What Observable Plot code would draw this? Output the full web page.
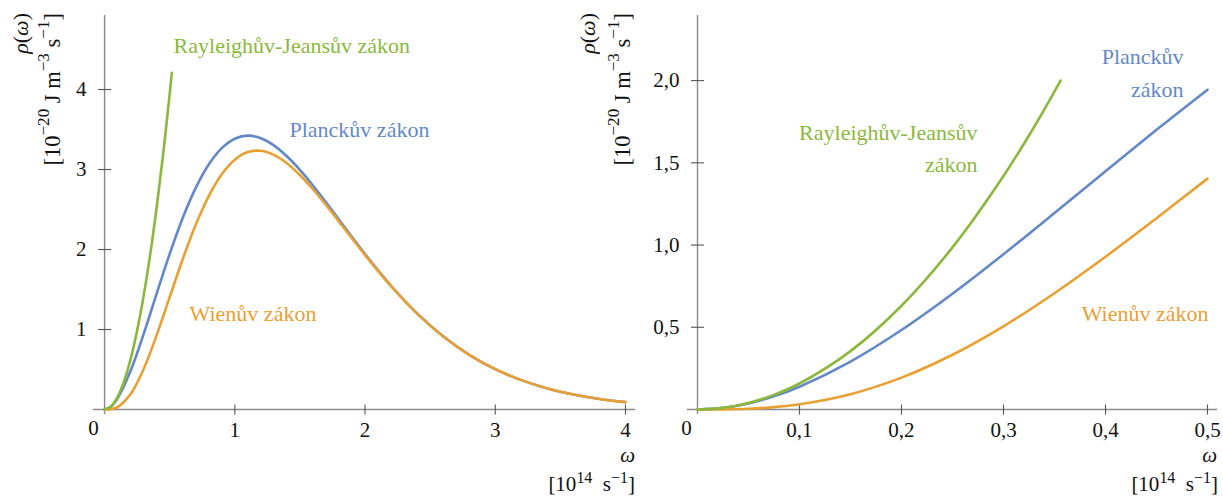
<!DOCTYPE html>
<html><head><meta charset="utf-8">
<script src="https://cdn.jsdelivr.net/npm/d3@7"></script>
<script src="https://cdn.jsdelivr.net/npm/@observablehq/plot@0.6"></script>
<style>
body{margin:0;background:#fff;}
#wrap{position:relative;width:1223px;height:500px;overflow:hidden;font-family:"Liberation Serif",serif;color:#111;}
#wrap svg{position:absolute;top:0;font-family:"Liberation Serif",serif;}
.lab{position:absolute;font-size:21px;white-space:nowrap;line-height:1;}
.rot{writing-mode:vertical-rl;transform:rotate(180deg);}
.lab sup{font-size:0.76em;vertical-align:0.5em;line-height:0;}
.it{font-style:italic;}
</style></head><body><div id="wrap"></div>
<script>
// ---- data ----
// left panel: ω in 10^14 s^-1, ρ in 10^-20 J m^-3 s^-1
const omegaL  = [0, 0.05, 0.1, 0.2, 0.3, 0.4, 0.5, 0.6, 0.7, 0.8, 0.9, 1.0, 1.1, 1.2, 1.3, 1.4, 1.5, 1.6, 1.7, 1.8, 1.9, 2.0, 2.2, 2.4, 2.6, 2.8, 3.0, 3.2, 3.4, 3.6, 3.8, 4.0];
const planckL = [0, 0.037, 0.139, 0.483, 0.944, 1.449, 1.945, 2.394, 2.770, 3.063, 3.267, 3.385, 3.423, 3.391, 3.302, 3.165, 2.995, 2.800, 2.590, 2.373, 2.156, 1.943, 1.546, 1.201, 0.915, 0.684, 0.504, 0.367, 0.264, 0.187, 0.132, 0.092];
const wienL   = [0, 0.004, 0.031, 0.194, 0.506, 0.929, 1.404, 1.878, 2.309, 2.668, 2.941, 3.123, 3.218, 3.234, 3.183, 3.078, 2.931, 2.753, 2.557, 2.349, 2.139, 1.931, 1.541, 1.199, 0.913, 0.684, 0.504, 0.367, 0.264, 0.187, 0.132, 0.092];
const omegaRJL = [0, 0.05, 0.1, 0.15, 0.2, 0.25, 0.3, 0.35, 0.4, 0.45, 0.5, 0.5165];
const rjL      = [0, 0.039, 0.158, 0.355, 0.631, 0.986, 1.420, 1.933, 2.525, 3.196, 3.945, 4.21];

// right panel (zoom on low frequencies)
const omegaR  = [0, 0.025, 0.05, 0.075, 0.1, 0.15, 0.2, 0.25, 0.3, 0.35, 0.4, 0.45, 0.5];
const planckR = [0, 0.0096, 0.037, 0.0805, 0.1385, 0.2913, 0.4834, 0.7041, 0.944, 1.1947, 1.449, 1.7007, 1.945];
const wienR   = [0, 0.0006, 0.0044, 0.0141, 0.0313, 0.0929, 0.1937, 0.3329, 0.506, 0.7071, 0.9286, 1.1633, 1.404];
const omegaRJR = [0, 0.025, 0.05, 0.075, 0.1, 0.15, 0.2, 0.25, 0.3, 0.33, 0.356];
const rjR      = [0, 0.0099, 0.0395, 0.0888, 0.158, 0.355, 0.631, 0.986, 1.420, 1.718, 2.0];

// ticks
const xTicksL = [0, 1, 2, 3, 4];
const yTicksL = [1, 2, 3, 4];
const xTicksR = [0, 0.1, 0.2, 0.3, 0.4, 0.5];
const yTicksR = [0.5, 1.0, 1.5, 2.0];

// curve labels
const lawNames = {rj: "Rayleighův-Jeansův zákon", planck: "Planckův zákon", wien: "Wienův zákon"};
const colors = {rj: "#8bb83c", planck: "#6388c6", wien: "#e8a033"};

// ---- helpers ----
const vTick = {draw(ctx, size){const r = Math.sqrt(size/Math.PI); ctx.moveTo(0,-r); ctx.lineTo(0,r);}};
const hTick = {draw(ctx, size){const r = Math.sqrt(size/Math.PI); ctx.moveTo(-r,0); ctx.lineTo(r,0);}};
const comma = d => d === 0 ? "0" : d.toFixed(1).replace(".", ",");
const FONT = "Liberation Serif";
const AX = "#8a8a8a", TK = "#555";

function panel({xT, yT, fmtX, fmtY, width, mL, mR, xDom, yDom, curves, labels}) {
  const T = {fontFamily: FONT, fontSize: 21, fill: "#111"};
  return Plot.plot({
    width, height: 500,
    marginLeft: mL, marginRight: mR, marginTop: 15, marginBottom: 86,
    x: {domain: xDom, axis: null},
    y: {domain: yDom, axis: null},
    style: {background: "transparent", overflow: "visible"},
    marks: [
      Plot.ruleY([0], {stroke: AX, strokeWidth: 1.4}),
      Plot.ruleX([0], {stroke: AX, strokeWidth: 1.4}),
      Plot.dot(xT.filter(d => d !== 0), {x: d => d, y: 0, symbol: vTick, r: 5, fill: "none", stroke: TK, strokeWidth: 1.1}),
      Plot.dot(yT, {x: 0, y: d => d, symbol: hTick, r: 6.5, fill: "none", stroke: TK, strokeWidth: 1.1}),
      Plot.text(xT.filter(d => d !== 0), {x: d => d, y: 0, dy: 21, text: fmtX, ...T}),
      Plot.text([0], {x: 0, y: 0, dx: -11, dy: 19, text: () => "0", ...T}),
      Plot.text(yT, {x: 0, y: d => d, dx: -18, text: fmtY, textAnchor: "end", ...T}),
      ...curves.map(c => Plot.line(c.x, {x: c.x, y: c.y, stroke: c.color, strokeWidth: 2.6, curve: "catmull-rom"})),
      ...labels.map(l => Plot.text([l.text], {x: () => l.x, y: () => l.y, text: d => d, textAnchor: l.anchor, lineAnchor: "middle", lineHeight: l.lh || 1, fontFamily: FONT, fontSize: 22, fill: l.color}))
    ]
  });
}

const left = panel({
  xT: xTicksL, yT: yTicksL, fmtX: d => String(d), fmtY: d => String(d),
  width: 645, mL: 93, mR: 10, xDom: [-0.085, 4.077], yDom: [-0.0625, 4.925],
  curves: [
    {x: omegaL, y: planckL, color: colors.planck},
    {x: omegaL, y: wienL, color: colors.wien},
    {x: omegaRJL, y: rjL, color: colors.rj}
  ],
  labels: [
    {text: lawNames.rj, x: 0.53, y: 4.55, anchor: "start", color: colors.rj},
    {text: lawNames.planck, x: 1.42, y: 3.49, anchor: "start", color: colors.planck},
    {text: lawNames.wien, x: 0.653, y: 1.19, anchor: "start", color: colors.wien}
  ]
});
left.style.left = "0px";

const right = panel({
  xT: xTicksR, yT: yTicksR, fmtX: comma, fmtY: comma,
  width: 643, mL: 107, mR: 6, xDom: [-0.0098, 0.5098], yDom: [-0.0305, 2.396],
  curves: [
    {x: omegaR, y: planckR, color: colors.planck},
    {x: omegaR, y: wienR, color: colors.wien},
    {x: omegaRJR, y: rjR, color: colors.rj}
  ],
  labels: [
    {text: "Rayleighův-Jeansův\nzákon", x: 0.2745, y: 1.604, anchor: "end", lh: 1.45, color: colors.rj},
    {text: "Planckův\nzákon", x: 0.4765, y: 2.067, anchor: "end", lh: 1.5, color: colors.planck},
    {text: lawNames.wien, x: 0.501, y: 0.579, anchor: "end", color: colors.wien}
  ]
});
right.style.left = "580px";

const wrap = document.getElementById("wrap");
wrap.append(left, right);

// axis titles (HTML, for superscripts)
const unitY = '[10<sup>−20</sup> J m<sup>−3</sup> s<sup>−1</sup>]';
const unitX = '[10<sup>14</sup>&nbsp; s<sup>−1</sup>]';
const html = [
  `<div class="lab rot" style="left:10px;top:13px;font-size:22px"><span class="it">ρ</span>(<span class="it">ω</span>)</div>`,
  `<div class="lab rot" style="left:42px;top:13px;font-size:22.5px">${unitY}</div>`,
  `<div class="lab rot" style="left:577px;top:13px;font-size:22px"><span class="it">ρ</span>(<span class="it">ω</span>)</div>`,
  `<div class="lab rot" style="left:612px;top:13px;font-size:22.5px">${unitY}</div>`,
  `<div class="lab it" style="right:${1223-635}px;top:445px">ω</div>`,
  `<div class="lab" style="right:${1223-635}px;top:474px">${unitX}</div>`,
  `<div class="lab it" style="right:${1223-1217}px;top:445px">ω</div>`,
  `<div class="lab" style="right:${1223-1218}px;top:474px">${unitX}</div>`
];
wrap.insertAdjacentHTML("beforeend", html.join(""));
</script></body></html>
